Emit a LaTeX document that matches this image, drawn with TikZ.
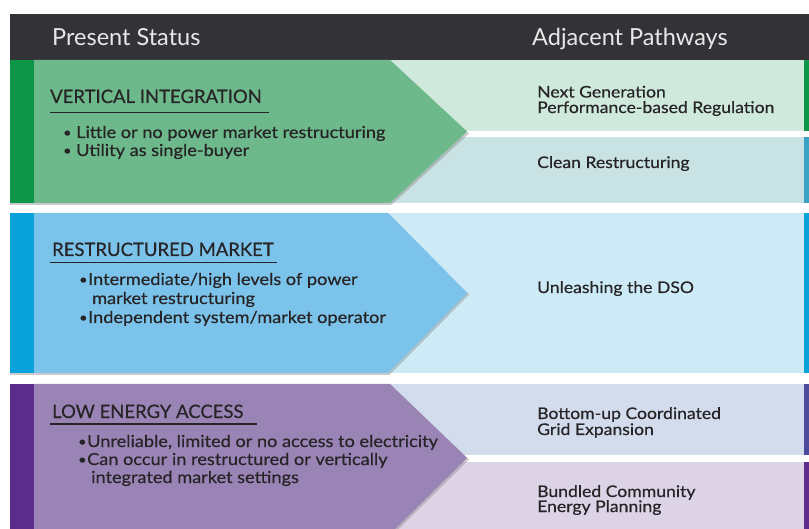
\documentclass[tikz,border=0pt]{standalone}
\usepackage{fontspec}
\setmainfont{Lato}
\newfontfamily\widefont[FakeStretch=1.1,FakeBold=0.5]{Lato}
\newfontfamily\titlefont[FakeBold=0.5]{Lato}
\definecolor{hdr}{HTML}{333236}
\definecolor{hdrtxt}{HTML}{E8E8E8}
\definecolor{ink}{HTML}{262426}
\definecolor{gstrip}{HTML}{0D9647}
\definecolor{garrow}{HTML}{6DB98B}
\definecolor{rowA}{HTML}{CFEADC}
\definecolor{rowB}{HTML}{C9E2E3}
\definecolor{stripB}{HTML}{3AA3C3}
\definecolor{bstrip}{HTML}{0AA2DA}
\definecolor{barrow}{HTML}{7BC3EA}
\definecolor{rowC}{HTML}{CDEBF7}
\definecolor{pstrip}{HTML}{5A2D8A}
\definecolor{parrow}{HTML}{9A84B6}
\definecolor{rowD}{HTML}{D3DCEC}
\definecolor{stripD}{HTML}{4B4B9C}
\definecolor{rowE}{HTML}{DDD3E6}
\tikzset{
  hdrtext/.style={font=\fontsize{23.5}{28}\selectfont, text=hdrtxt, anchor=base west, inner sep=0pt},
  sectitle/.style={font=\titlefont\fontsize{18.5}{21}\selectfont, text=ink, anchor=base west, inner sep=0pt},
  itemtext/.style={font=\widefont\fontsize{16.5}{19}\selectfont, text=ink, anchor=base west, inner sep=0pt},
  bulletdot/.style={font=\widefont\fontsize{13}{19}\selectfont, text=ink, anchor=base west, inner sep=0pt},
  pathtext/.style={font=\widefont\fontsize{16}{18}\selectfont, text=ink, anchor=base west, inner sep=0pt},
  uline/.style={draw=ink, line width=1.3pt},
  shade/.style={fill=black!45, opacity=0.45}
}
\begin{document}
\begin{tikzpicture}[x=1pt,y=-1pt]
\useasboundingbox (0,0) rectangle (809,529);
\fill[white] (0,0) rectangle (809,529);
\begin{scope}
\clip (0,0) rectangle (809,529);
% header
\fill[hdr] (10,14) rectangle (809,60);
\node[hdrtext] (hl) at (52,46) {Present Status};
\node[hdrtext] (hr) at (532,46) {Adjacent Pathways};

% right rows
\fill[rowA] (380,60) rectangle (804,131);
\fill[gstrip] (804,60) rectangle (809,131);
\fill[rowB] (380,137) rectangle (804,203);
\fill[stripB] (804,137) rectangle (809,203);
\fill[rowC] (380,213) rectangle (804,373);
\fill[bstrip] (804,213) rectangle (809,373);
\fill[rowD] (380,384) rectangle (804,455);
\fill[stripD] (804,384) rectangle (809,455);
\fill[rowE] (380,462) rectangle (804,529);
\fill[pstrip] (804,462) rectangle (809,529);

% green section
\fill[shade] (10,61.5) -- (391.5,61.5) -- (469,133.5) -- (391.5,205) -- (10,205) -- cycle;
\fill[gstrip] (10,60) rectangle (34,203);
\fill[garrow] (34,60) -- (390,60) -- (467,131.5) -- (390,203) -- (34,203) -- cycle;

% blue section
\fill[shade] (10,214.5) -- (389.5,214.5) -- (469,294.5) -- (389.5,375) -- (10,375) -- cycle;
\fill[bstrip] (10,213) rectangle (34,373);
\fill[barrow] (34,213) -- (388,213) -- (467,293) -- (388,373) -- (34,373) -- cycle;

% purple section
\fill[shade] (10,385.5) -- (391.5,385.5) -- (469,459.5) -- (391.5,536) -- (10,536) -- cycle;
\fill[pstrip] (10,384) rectangle (34,534);
\fill[parrow] (34,384) -- (390,384) -- (467,458) -- (390,534) -- (34,534) -- cycle;
\end{scope}

% section 1 texts
\node[sectitle] (t1) at (50,103) {VERTICAL INTEGRATION};
\coordinate (u1a) at (50,112.5);
\coordinate (u1b) at (269,112.5);
\draw[uline] (u1a) -- (u1b);
\node[bulletdot] (b1a) at (63,137) {\textbullet};
\node[itemtext] (i1a) at (76,138) {Little or no power market restructuring};
\node[bulletdot] (b1b) at (63,155) {\textbullet};
\node[itemtext] (i1b) at (76,156) {Utility as single-buyer};

% section 2 texts
\node[sectitle] (t2) at (52,256) {RESTRUCTURED MARKET};
\coordinate (u2a) at (50,262.5);
\coordinate (u2b) at (277,262.5);
\draw[uline] (u2a) -- (u2b);
\node[bulletdot] (b2a) at (79,284) {\textbullet};
\node[itemtext] (i2a) at (88,285) {Intermediate/high levels of power};
\node[itemtext] (i2c) at (92,304) {market restructuring};
\node[bulletdot] (b2b) at (79,322) {\textbullet};
\node[itemtext] (i2b) at (88,323) {Independent system/market operator};

% section 3 texts
\node[sectitle] (t3) at (52,418) {LOW ENERGY ACCESS};
\coordinate (u3a) at (50,424);
\coordinate (u3b) at (257,424);
\draw[uline] (u3a) -- (u3b);
\node[bulletdot] (b3a) at (78,446) {\textbullet};
\node[itemtext] (i3a) at (87,447) {Unreliable, limited or no access to electricity};
\node[bulletdot] (b3b) at (78,464) {\textbullet};
\node[itemtext] (i3b) at (87,465) {Can occur in restructured or vertically};
\node[itemtext] (i3c) at (91,483) {integrated market settings};

% right texts
\node[pathtext] (p1a) at (537,97.5) {Next Generation};
\node[pathtext] (p1b) at (537,113) {Performance-based Regulation};
\node[pathtext] (p2) at (537,168) {Clean Restructuring};
\node[pathtext] (p3) at (537,293) {Unleashing the DSO};
\node[pathtext] (p4a) at (537,419) {Bottom-up Coordinated};
\node[pathtext] (p4b) at (537,435) {Grid Expansion};
\node[pathtext] (p5a) at (537,497) {Bundled Community};
\node[pathtext] (p5b) at (537,512) {Energy Planning};
\end{tikzpicture}
\end{document}
